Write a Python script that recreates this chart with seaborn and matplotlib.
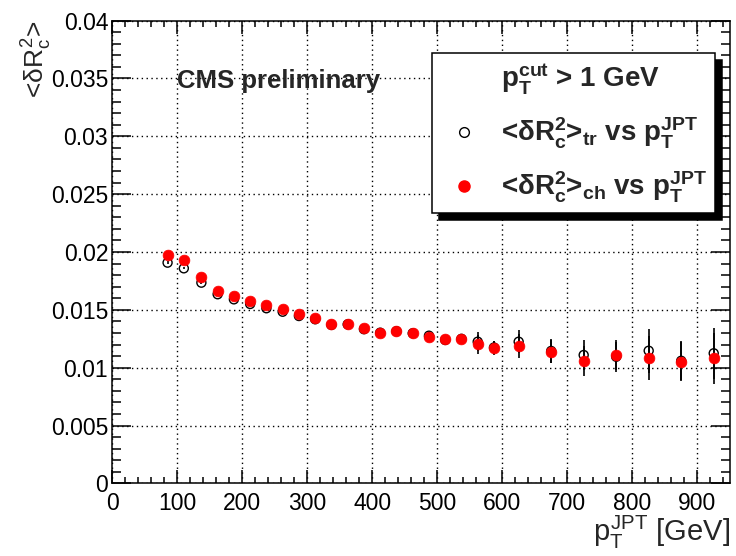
import numpy as np
import pandas as pd
import seaborn as sns
import matplotlib
matplotlib.use("Agg")
import matplotlib.pyplot as plt
from matplotlib.lines import Line2D
from matplotlib.ticker import MultipleLocator, FuncFormatter

# pT^JPT points (GeV)
pt = [85, 110, 137, 162, 187, 212, 237, 262, 287, 312, 337, 362, 387, 412,
      437, 462, 487, 512, 537, 562, 587, 625, 675, 725, 775, 825, 875, 925]

# <dR_c^2> from tracks (open circles)
dr2_tr = [0.01908, 0.01859, 0.01735, 0.01635, 0.01591, 0.01551, 0.01514,
          0.01484, 0.01447, 0.01419, 0.01370, 0.01375, 0.01333, 0.01303,
          0.01315, 0.01298, 0.01277, 0.01240, 0.01250, 0.01225, 0.01175,
          0.01225, 0.01145, 0.01110, 0.01095, 0.01147, 0.01060, 0.01125]

# <dR_c^2> from charged particles (red)
dr2_ch = [0.01974, 0.01931, 0.01787, 0.01666, 0.01620, 0.01579, 0.01542,
          0.01505, 0.01462, 0.01432, 0.01375, 0.01375, 0.01341, 0.01303,
          0.01318, 0.01298, 0.01268, 0.01246, 0.01246, 0.01203, 0.01173,
          0.01188, 0.01139, 0.01061, 0.01110, 0.01082, 0.01052, 0.01082]

# errors (roughly the same for both)
err = [0.0001, 0.0001, 0.0001, 0.0001, 0.0001, 0.0001, 0.00012, 0.00012,
       0.00014, 0.00015, 0.00018, 0.0002, 0.0002, 0.00022, 0.00025, 0.00028,
       0.0003, 0.0003, 0.0004, 0.0008, 0.0006, 0.001, 0.001, 0.0013,
       0.0013, 0.0019, 0.0017, 0.0022]

df = pd.DataFrame({'pt': pt, 'tr': dr2_tr, 'ch': dr2_ch, 'err': err})

sns.set_style("ticks")
plt.rcParams['font.family'] = ['Liberation Sans', 'DejaVu Sans']
plt.rcParams['mathtext.fontset'] = 'custom'
plt.rcParams['mathtext.rm'] = 'Liberation Sans'
plt.rcParams['mathtext.it'] = 'Liberation Sans'
plt.rcParams['mathtext.bf'] = 'Liberation Sans:bold'

fig = plt.figure(figsize=(7.36, 5.56), dpi=100)
ax = fig.add_axes([0.1526, 0.1304, 0.8392, 0.8327])

# error bars
ax.errorbar(df['pt'], df['tr'], yerr=df['err'], fmt='none', ecolor='black',
            elinewidth=1.2, capsize=0, zorder=2)
ax.errorbar(df['pt'], df['ch'], yerr=df['err'], fmt='none', ecolor='black',
            elinewidth=1.2, capsize=0, zorder=2)

sns.scatterplot(data=df, x='pt', y='tr', ax=ax, marker='o', s=42,
                facecolor='none', edgecolor='black', linewidth=1, zorder=3)
sns.scatterplot(data=df, x='pt', y='ch', ax=ax, marker='o', s=60,
                color='red', edgecolor='red', linewidth=0.5, zorder=4)

ax.set_xlim(0, 950)
ax.set_ylim(0, 0.04)
ax.xaxis.set_major_locator(MultipleLocator(100))
ax.xaxis.set_minor_locator(MultipleLocator(20))
ax.yaxis.set_major_locator(MultipleLocator(0.005))
ax.yaxis.set_minor_locator(MultipleLocator(0.001))
ax.yaxis.set_major_formatter(FuncFormatter(lambda v, p: '%g' % round(v, 4)))

ax.grid(True, which='major', color='black', linestyle=(0, (1, 2.5)), linewidth=1)
for s in ax.spines.values():
    s.set_linewidth(1.1)
    s.set_color('black')

ax.tick_params(axis='both', which='both', direction='in', top=True, right=True,
               colors='black', labelsize=16.5)
ax.tick_params(axis='y', which='major', length=14, width=1.1, pad=3)
ax.tick_params(axis='y', which='minor', length=6.5, width=1.1)
ax.tick_params(axis='x', which='major', length=9.5, width=1.1, pad=6)
ax.tick_params(axis='x', which='minor', length=4.5, width=1.1)

ax.set_xlabel(r'$p_T^{JPT}$ [GeV]', fontsize=21, loc='right')
ax.xaxis.set_label_coords(1.0, -0.066)
ax.set_ylabel(r'<$\delta R_c^2$>', fontsize=19, loc='top')
ax.yaxis.set_label_coords(-0.094, 1.0)

ax.text(0.104, 0.869, 'CMS preliminary', transform=ax.transAxes,
        fontsize=18.5, fontweight='bold', va='center', ha='left')

handles = [
    Line2D([], [], linestyle='none'),
    Line2D([], [], linestyle='none', marker='o', markersize=7,
           markerfacecolor='none', markeredgecolor='black'),
    Line2D([], [], linestyle='none', marker='o', markersize=8,
           markerfacecolor='red', markeredgecolor='red'),
]
labels = [
    r'$\mathbf{p_T^{cut}}$ > 1 GeV',
    r'<$\mathbf{\delta R_c^2}$>$\mathbf{_{tr}}$ vs $\mathbf{p_T^{JPT}}$',
    r'<$\mathbf{\delta R_c^2}$>$\mathbf{_{ch}}$ vs $\mathbf{p_T^{JPT}}$',
]
leg = ax.legend(handles, labels, loc='upper left', bbox_to_anchor=(0.518, 0.930),
                borderaxespad=0, prop={'weight': 'bold', 'size': 20},
                frameon=True, fancybox=False, framealpha=1, edgecolor='black',
                borderpad=0.3, handlelength=1.7, handletextpad=0.48,
                labelspacing=0.68,
                shadow={'ox': 5, 'oy': -5, 'color': 'black', 'alpha': 1})
leg.get_frame().set_linewidth(1.1)

fig.savefig('out.png', dpi=100)
